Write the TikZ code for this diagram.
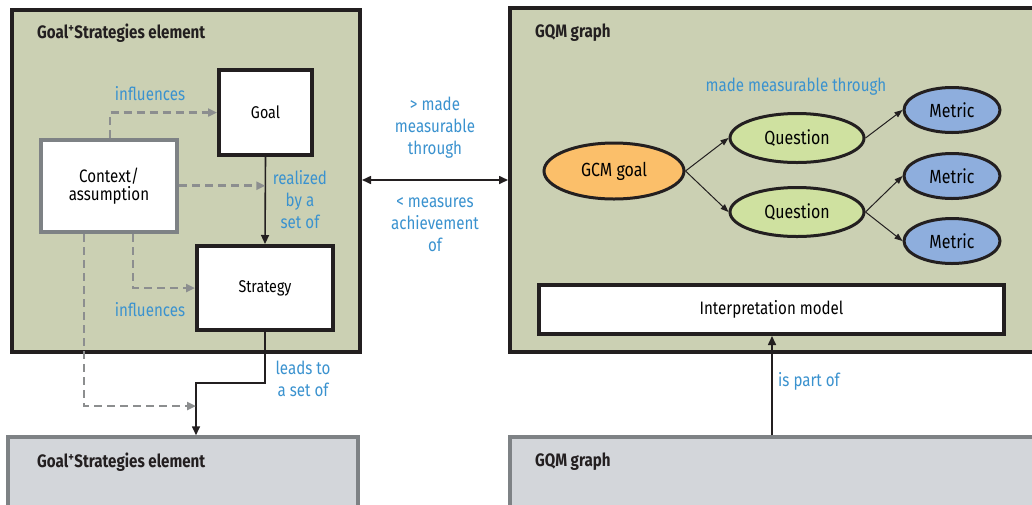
\documentclass[tikz,border=0pt]{standalone}
\usepackage{fontspec}
\setmainfont[FakeStretch=0.84]{Fira Sans}
\usetikzlibrary{arrows.meta,shapes.geometric}
\definecolor{khaki}{HTML}{CBD0B3}
\definecolor{lightgrey}{HTML}{D3D6DA}
\definecolor{framegrey}{HTML}{7E8285}
\definecolor{dark}{HTML}{231F20}
\definecolor{labelblue}{HTML}{3A92CF}
\definecolor{goalorange}{HTML}{FBBF6A}
\definecolor{qgreen}{HTML}{CFE1A0}
\definecolor{mblue}{HTML}{8EAEDD}
\definecolor{dashgrey}{HTML}{8C8E8F}
\tikzset{
  panel/.style={draw=dark,line width=4pt,fill=khaki},
  refpanel/.style={draw=framegrey,line width=3.5pt,fill=lightgrey},
  whitebox/.style={draw=dark,line width=4pt,fill=white,font=\fontsize{17}{20}\selectfont},
  ctxbox/.style={draw=framegrey,line width=4pt,fill=white,align=center,font=\fontsize{18}{21}\selectfont},
  title/.style={font=\bfseries\fontsize{18}{21}\selectfont,anchor=west,text=dark,inner sep=0pt},
  lbl/.style={text=labelblue,font=\fontsize{18}{22}\selectfont,align=center,inner sep=0pt},
  oval/.style={ellipse,draw=dark,line width=3pt,font=\fontsize{19}{22}\selectfont,inner sep=0pt},
  infl/.style={draw=dashgrey,line width=2.8pt,dash pattern=on 8pt off 5pt,-{Triangle[length=9pt,width=8pt]}},
  flow/.style={draw=dark,line width=1.6pt,-{Triangle[length=9pt,width=8pt]}},
  thin/.style={draw=dark,line width=1pt,-{Triangle[length=8pt,width=6pt]}}
}
\begin{document}
\begin{tikzpicture}[x=1pt,y=-1pt]
\useasboundingbox (0,0) rectangle (1032,504);
\clip (0,0) rectangle (1032,504);
\fill[white] (0,0) rectangle (1032,504);

% the two main panels
\node[panel,minimum width=348pt,minimum height=342pt,inner sep=0pt] (gs) at (186,181) {};
\node[panel,minimum width=540pt,minimum height=344pt,inner sep=0pt] (gqm) at (780,180) {};
\node[title] at (37,33) {Goal\textsuperscript{+}Strategies element};
\node[title] at (535,33) {GQM graph};

% referenced elements below
\node[refpanel,minimum width=350pt,minimum height=72pt,inner sep=0pt] (gsref) at (183,473) {};
\node[refpanel,minimum width=540pt,minimum height=72pt,inner sep=0pt] (gqmref) at (780,473) {};
\node[title] at (37,462) {Goal\textsuperscript{+}Strategies element};
\node[title] at (535,462) {GQM graph};

% Goal+Strategies element content
\node[whitebox,minimum width=93pt,minimum height=85pt] (goal) at (265.5,112.5) {Goal};
\node[whitebox,minimum width=136pt,minimum height=84pt] (strategy) at (265,288) {Strategy};
\node[ctxbox,minimum width=136pt,minimum height=92pt] (ctx) at (109,186) {Context/\\[-3pt]assumption};

\draw[flow] (goal.south) -- (strategy.north) coordinate[pos=0.33] (mid);
\node[lbl,anchor=north] at (300,170) {realized\\by a\\set of};

\coordinate (c1) at (110,112);
\draw[infl] (ctx.north -| c1) |- (goal.west);
\node[lbl] at (150,94) {influences};
\draw[infl] (ctx.east |- mid) -- (mid);
\coordinate (c2) at (133,289);
\draw[infl] (ctx.south -| c2) |- (strategy.west);
\node[lbl] at (150,310) {influences};

\coordinate (turn) at (196,383);
\draw[flow] (strategy.south) |- (turn) -- (turn |- gsref.north);
\node[lbl,anchor=north] at (303,361) {leads to\\a set of};
\coordinate (c3) at (84,406);
\draw[infl] (ctx.south -| c3) |- (196,406);

% link between the two panels
\draw[dark,line width=1.6pt,{Triangle[length=9pt,width=8pt]}-{Triangle[length=9pt,width=8pt]}]
  (gs.east |- 0,180) -- (gqm.west |- 0,180);
\node[lbl,anchor=north] at (435,97) {> made\\measurable\\through};
\node[lbl,anchor=north] at (435,197) {< measures\\achievement\\of};

% GQM graph content
\node[oval,fill=goalorange,minimum width=140pt,minimum height=56pt] (gg) at (614,171) {GCM goal};
\node[oval,fill=qgreen,minimum width=134pt,minimum height=49pt] (q1) at (797,138) {Question};
\node[oval,fill=qgreen,minimum width=134pt,minimum height=49pt] (q2) at (797,212) {Question};
\node[oval,fill=mblue,minimum width=96pt,minimum height=45pt] (m1) at (952,110) {Metric};
\node[oval,fill=mblue,minimum width=96pt,minimum height=45pt] (m2) at (952,176) {Metric};
\node[oval,fill=mblue,minimum width=96pt,minimum height=45pt] (m3) at (952,241) {Metric};
\draw[thin] (gg.east) -- (q1.west);
\draw[thin] (gg.east) -- (q2.west);
\draw[thin] (q1.east) -- (m1.west);
\draw[thin] (q2.east) -- (m2.west);
\draw[thin] (q2.east) -- (m3.west);
\node[lbl] at (796,87) {made measurable through};

\node[whitebox,minimum width=465pt,minimum height=49pt,font=\fontsize{18}{21}\selectfont] (interp) at (771.5,309.5) {Interpretation model};
\draw[flow] (gqmref.north -| 772,0) -- (interp.south -| 772,0);
\node[lbl,anchor=west] at (778,381) {is part of};
\end{tikzpicture}
\end{document}
